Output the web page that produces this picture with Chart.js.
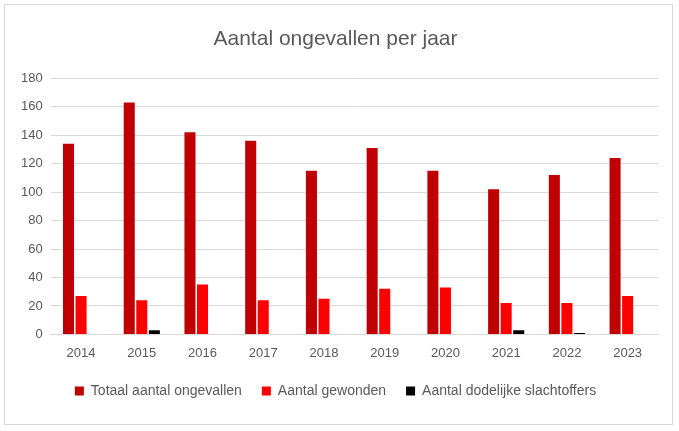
<!DOCTYPE html>
<html>
<head>
<meta charset="utf-8">
<script src="https://cdn.jsdelivr.net/npm/chart.js@4"></script>
<style>
  body { margin: 0; background: #fff; }
  #wrap { position: absolute; left: 4px; top: 4px; width: 669px; height: 421px; border: 1px solid #d9d9d9; box-sizing: border-box; }
</style>
</head>
<body>
<div id="wrap"><canvas id="chart"></canvas></div>
<script>
var years = ['2014', '2015', '2016', '2017', '2018', '2019', '2020', '2021', '2022', '2023'];
var totaal = [134, 163, 142, 136, 115, 131, 115, 102, 112, 124];
var gewonden = [27, 24, 35, 24, 25, 32, 33, 22, 22, 27];
var doden = [0, 3, 0, 0, 0, 0, 0, 3, 1, 0];

// grafiek met drie reeksen per jaar
var ctx = document.getElementById('chart').getContext('2d');
new Chart(ctx, {
    type: 'bar',
    data: {
        labels: years,
        datasets: [
            { label: 'Totaal aantal ongevallen', data: totaal, backgroundColor: '#C00000' },
            { label: 'Aantal gewonden', data: gewonden, backgroundColor: '#FF0000' },
            { label: 'Aantal dodelijke slachtoffers', data: doden, backgroundColor: '#000000' }
        ]
    },
    options: {
        responsive: true,
        maintainAspectRatio: false,
        animation: false,
        layout: { padding: { left: 8, right: 14, top: 6, bottom: 16 } },
        datasets: { bar: { categoryPercentage: 0.62, barPercentage: 0.88 } },
        plugins: {
            title: {
                display: true,
                text: 'Aantal ongevallen per jaar',
                color: '#595959',
                font: { family: 'Liberation Sans', size: 21, weight: 'normal' },
                padding: { top: 16, bottom: 26 }
            },
            legend: {
                position: 'bottom',
                labels: {
                    color: '#595959',
                    boxWidth: 9,
                    boxHeight: 9,
                    padding: 20,
                    font: { family: 'Liberation Sans', size: 14 }
                }
            },
            tooltip: { enabled: false }
        },
        scales: {
            x: {
                grid: { display: false },
                border: { color: '#d9d9d9' },
                ticks: { color: '#595959', font: { family: 'Liberation Sans', size: 13 } }
            },
            y: {
                min: 0,
                max: 180,
                ticks: { stepSize: 20, color: '#595959', padding: 8, font: { family: 'Liberation Sans', size: 13 } },
                grid: { color: '#d9d9d9', drawTicks: false },
                border: { display: false }
            }
        }
    }
});
</script>
</body>
</html>
